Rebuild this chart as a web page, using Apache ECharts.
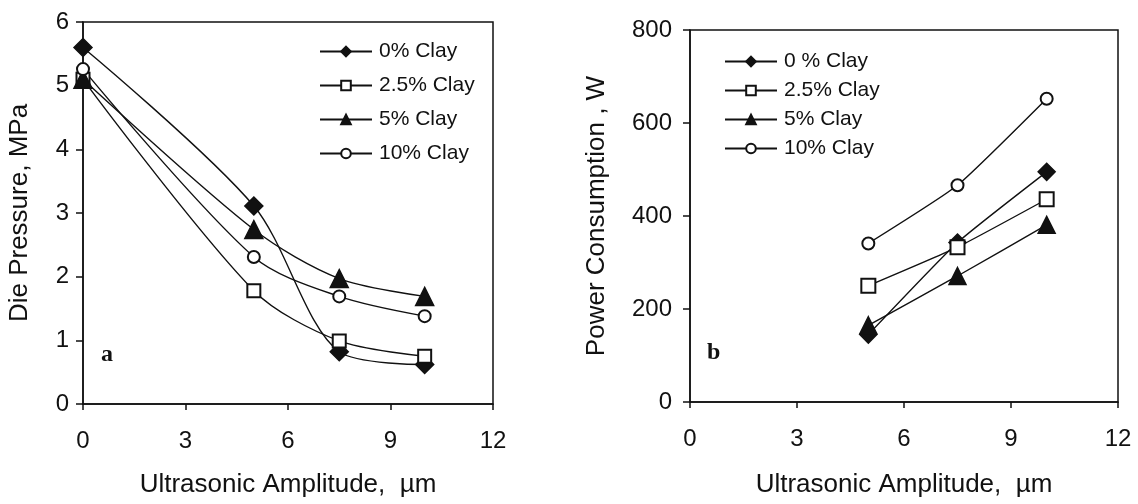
<!DOCTYPE html>
<html>
<head>
<meta charset="utf-8">
<script src="https://cdn.jsdelivr.net/npm/echarts@6/dist/echarts.min.js"></script>
<style>
html,body{margin:0;padding:0;background:#fff;}
#chart{width:1138px;height:504px;}
</style>
</head>
<body>
<div id="chart"></div>
<script>
// ---- Data ----
const amplitudeA = [0, 5, 7.5, 10];
const pressure0 = [5.6, 3.11, 0.82, 0.62];
const pressure25 = [5.1, 1.78, 0.99, 0.75];
const pressure5 = [5.1, 2.74, 1.97, 1.69];
const pressure10 = [5.26, 2.31, 1.69, 1.38];

const amplitudeB = [5, 7.5, 10];
const power0 = [145, 343, 495];
const power25 = [250, 333, 436];
const power5 = [165, 271, 381];
const power10 = [341, 466, 652];

const namesA = ['0% Clay', '2.5% Clay', '5% Clay', '10% Clay'];
const namesB = ['0 % Clay', '2.5% Clay ', '5% Clay ', '10% Clay '];
const xTicks = [0, 3, 6, 9, 12];

const pair = (xs, ys) => xs.map((x, i) => [x, ys[i]]);
const FONT = '"Liberation Sans", Arial, sans-serif';
const INK = '#111';

function mkX(gi) {
  return {
    type: 'value', gridIndex: gi, min: 0, max: 12, interval: 3,
    name: 'Ultrasonic Amplitude,  µm', nameLocation: 'middle', nameGap: gi === 0 ? 68 : 70,
    nameTextStyle: {fontFamily: FONT, fontSize: 26, color: INK},
    axisLine: {show: true, lineStyle: {color: INK, width: 1.5}},
    axisTick: {show: true, inside: false, length: 6, lineStyle: {color: INK, width: 1.5}},
    axisLabel: {fontFamily: FONT, fontSize: 24, color: INK, margin: 25,
      formatter: v => xTicks.includes(v) ? String(v) : ''},
    splitLine: {show: false}
  };
}
function mkY(gi, max, interval, name, gap, margin) {
  return {
    type: 'value', gridIndex: gi, min: 0, max: max, interval: interval,
    name: name, nameLocation: 'middle', nameGap: gap,
    nameTextStyle: {fontFamily: FONT, fontSize: 26, color: INK},
    axisLine: {show: true, lineStyle: {color: INK, width: 1.5}},
    axisTick: {show: true, inside: false, length: 7, lineStyle: {color: INK, width: 1.5}},
    axisLabel: {fontFamily: FONT, fontSize: 24, color: INK, margin: margin},
    splitLine: {show: false}
  };
}
function mkSeries(name, gi, data, symbol, size, smooth) {
  return {
    type: 'line', name: name, xAxisIndex: gi, yAxisIndex: gi,
    data: data, symbol: symbol, symbolSize: size, smooth: smooth,
    showAllSymbol: true,
    lineStyle: {color: INK, width: 1.4},
    itemStyle: {color: INK, borderColor: INK, borderWidth: 1.5},
    emphasis: {disabled: true},
    animation: false, z: 3
  };
}

const chart = echarts.init(document.getElementById('chart'), null, {renderer: 'canvas'});
chart.setOption({
  backgroundColor: '#fff',
  animation: false,
  grid: [
    {left: 83, top: 22, width: 410, height: 382, show: true, borderColor: INK, borderWidth: 1.5, backgroundColor: 'transparent'},
    {left: 690, top: 30, width: 428, height: 372, show: true, borderColor: INK, borderWidth: 1.5, backgroundColor: 'transparent'}
  ],
  xAxis: [mkX(0), mkX(1)],
  yAxis: [
    mkY(0, 6, 1, 'Die Pressure, MPa', 50, 14),
    mkY(1, 800, 200, 'Power Consumption , W', 80, 18)
  ],
  legend: [
    {data: namesA, orient: 'vertical', left: 314, top: 36, itemWidth: 52, itemHeight: 12, itemGap: 13,
     selectedMode: false, textStyle: {fontFamily: FONT, fontSize: 21, color: INK, lineHeight: 20, padding: [0,0,0,2]}},
    {data: namesB, orient: 'vertical', left: 719, top: 46, itemWidth: 52, itemHeight: 12, itemGap: 8,
     selectedMode: false, textStyle: {fontFamily: FONT, fontSize: 21, color: INK, lineHeight: 20, padding: [0,0,0,2]}}
  ],
  graphic: [
    {type: 'text', left: 101, top: 343, style: {text: 'a', font: 'bold 24px "Liberation Serif", serif', fill: INK}},
    {type: 'text', left: 707, top: 341, style: {text: 'b', font: 'bold 24px "Liberation Serif", serif', fill: INK}}
  ],
  series: [
    mkSeries(namesA[0], 0, pair(amplitudeA, pressure0), 'diamond', 18, 0.3),
    mkSeries(namesA[1], 0, pair(amplitudeA, pressure25), 'emptyRect', 13, 0.3),
    mkSeries(namesA[2], 0, pair(amplitudeA, pressure5), 'triangle', 18, 0.3),
    mkSeries(namesA[3], 0, pair(amplitudeA, pressure10), 'emptyCircle', 12, 0.3),
    mkSeries(namesB[0], 1, pair(amplitudeB, power0), 'diamond', 17, 0.15),
    mkSeries(namesB[1], 1, pair(amplitudeB, power25), 'emptyRect', 14, 0.15),
    mkSeries(namesB[2], 1, pair(amplitudeB, power5), 'triangle', 17, 0.15),
    mkSeries(namesB[3], 1, pair(amplitudeB, power10), 'emptyCircle', 12, 0.15)
  ]
});
</script>
</body>
</html>
